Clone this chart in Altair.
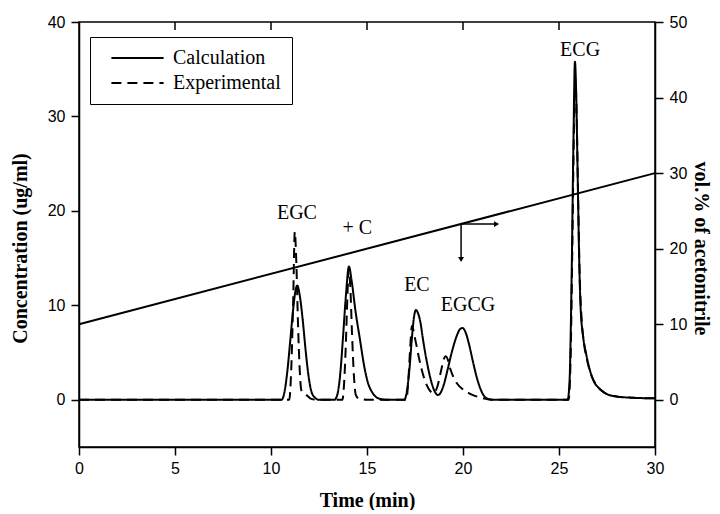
import altair as alt
import pandas as pd

# ---- data ----
calc_t = [0, 10.55, 10.7, 10.85, 11.0, 11.15, 11.3, 11.37, 11.5, 11.65, 11.8, 11.95, 12.1, 12.3, 12.5,
          13.3, 13.45, 13.6, 13.75, 13.9, 14.06, 14.2, 14.4, 14.64, 14.85, 15.05, 15.3, 15.6, 16.0,
          16.95, 17.05, 17.2, 17.35, 17.45, 17.55, 17.65, 17.8, 17.9, 18.1, 18.3, 18.5, 18.7, 18.85,
          19.0, 19.2, 19.45, 19.7, 19.85, 19.98, 20.1, 20.3, 20.5, 20.7, 20.9, 21.1, 21.3, 21.5,
          25.45, 25.55, 25.65, 25.75, 25.83, 25.9, 25.97, 26.05, 26.12, 26.25, 26.4, 26.6, 26.8,
          27.1, 27.5, 28.0, 29.0, 30.0]
calc_v = [0, 0, 0.8, 3.0, 6.2, 9.5, 11.8, 12.1, 11.0, 8.5, 5.3, 2.6, 0.9, 0.2, 0,
          0, 0.5, 2.6, 6.6, 11.0, 14.1, 12.6, 9.4, 6.3, 3.6, 1.8, 0.7, 0.15, 0,
          0, 0.6, 3.0, 6.8, 8.8, 9.5, 9.2, 8.0, 6.6, 4.2, 2.3, 1.0, 0.5, 0.8,
          1.6, 3.2, 5.3, 6.9, 7.5, 7.6, 7.3, 6.0, 4.2, 2.5, 1.2, 0.4, 0.1, 0,
          0, 2.0, 12.0, 27.0, 35.8, 32.0, 24.0, 15.0, 10.0, 6.8, 5.0, 3.2, 2.0,
          1.2, 0.6, 0.35, 0.2, 0.15]

exp_t = [0, 10.95, 11.05, 11.15, 11.24, 11.32, 11.4, 11.5, 11.58, 11.8, 12.1, 12.4,
         13.72, 13.8, 13.9, 13.98, 14.05, 14.13, 14.22, 14.32, 14.42, 14.6, 15.0,
         17.05, 17.15, 17.25, 17.34, 17.5, 17.7, 17.9, 18.1, 18.3, 18.45, 18.65, 18.85,
         19.0, 19.1, 19.2, 19.35, 19.5, 19.7, 20.0, 20.4, 20.8, 21.3, 21.6,
         25.5, 25.6, 25.7, 25.78, 25.85, 25.92, 26.0, 26.08, 26.18, 26.3, 26.45, 26.65,
         26.9, 27.2, 27.6, 28.2, 29.0, 30.0]
exp_v = [0, 0, 3.0, 10.0, 17.8, 14.5, 8.5, 3.0, 1.0, 0.6, 0.1, 0,
         0, 1.5, 6.0, 11.0, 13.8, 12.0, 7.0, 2.5, 0.5, 0.1, 0,
         0, 2.0, 5.5, 7.8, 6.5, 4.5, 2.8, 1.6, 0.9, 0.7, 1.3, 3.0,
         4.3, 4.6, 4.3, 3.2, 2.4, 1.7, 1.1, 0.6, 0.3, 0.05, 0,
         0, 4.0, 17.0, 29.0, 34.0, 30.0, 21.0, 13.0, 8.5, 6.0, 4.3, 2.8,
         1.7, 1.0, 0.5, 0.3, 0.2, 0.15]

series_names = ["Calculation", "Experimental"]

grad_t = [0, 30]
grad_pct = [10, 30]

top_tick_t = [5, 10, 15, 20, 25]

peak_labels = ["EGC", "+ C", "EC", "EGCG", "ECG"]
peak_label_t = [11.35, 14.5, 17.6, 20.26, 26.1]
peak_label_v = [19.8, 18.2, 12.15, 10.0, 37.0]

arrow_t = [19.9, 19.9]
arrow_v = [18.6, 18.6]
arrow_t2 = [19.9, 21.7]
arrow_v2 = [14.9, 18.6]
head_t = [19.9, 21.75]
head_v = [14.85, 18.6]
head_shape = ["triangle-down", "triangle-right"]

x_ticks = [0, 5, 10, 15, 20, 25, 30]
yl_ticks = [0, 10, 20, 30, 40]
yr_ticks = [0, 10, 20, 30, 40, 50]

# ---- tables ----
curves = pd.DataFrame({
    "t": calc_t + exp_t,
    "v": calc_v + exp_v,
    "series": [series_names[0]] * len(calc_t) + [series_names[1]] * len(exp_t),
})
grad = pd.DataFrame({"t": grad_t, "pct": grad_pct})
ticks = pd.DataFrame({"t": top_tick_t, "v": [40] * len(top_tick_t), "v2": [39.15] * len(top_tick_t)})
labels = pd.DataFrame({"t": peak_label_t, "v": peak_label_v, "text": peak_labels})
arrows = pd.DataFrame({"t": arrow_t, "v": arrow_v, "t2": arrow_t2, "v2": arrow_v2})
heads = pd.DataFrame({"t": head_t, "v": head_v, "shape": head_shape})

x_scale = alt.Scale(domain=[0, 30], nice=False, zero=False)
x_axis = alt.Axis(values=x_ticks, title="Time (min)", titleX=288, titleY=53,
                  titleAlign="center", titleBaseline="middle", labelFlush=False,
                  tickSize=8, labelPadding=5, grid=False)
yl_scale = alt.Scale(domain=[-5, 40], nice=False, zero=False)
yl_axis = alt.Axis(values=yl_ticks, title="Concentration (ug/ml)", titleX=-59, titleY=226,
                   titleAngle=270, titleAlign="center", titleBaseline="middle",
                   tickSize=8, labelPadding=6, grid=False)
yr_scale = alt.Scale(domain=[-6.25, 50], nice=False, zero=False)
yr_axis = alt.Axis(orient="right", values=yr_ticks, title="vol.% of acetonitrile",
                   titleX=45, titleY=226, titleAngle=90, titleAlign="center",
                   titleBaseline="middle", tickSize=8, labelPadding=6, grid=False)

X = alt.X("t:Q", scale=x_scale, axis=x_axis)
YL = alt.Y("v:Q", scale=yl_scale, axis=yl_axis)

lines = alt.Chart(curves).mark_line(color="black", strokeWidth=2, interpolate="monotone").encode(
    x=X, y=YL,
    strokeDash=alt.StrokeDash(
        "series:N",
        scale=alt.Scale(domain=series_names, range=[[1, 0], [10, 6]]),
        legend=alt.Legend(title=None, orient="none", legendX=11, legendY=15,
                          symbolType="M-2.9,0H2.9", symbolSize=324, symbolStrokeWidth=2,
                          symbolStrokeColor="black", symbolFillColor="transparent",
                          labelFont="Liberation Serif",
                          labelFontSize=20, labelColor="black", padding=11,
                          symbolOffset=26.5, labelOffset=25.5, rowPadding=5,
                          strokeColor="black"),
    ),
)

top_ticks = alt.Chart(ticks).mark_rule(color="black", strokeWidth=1.5).encode(
    x=X, y=YL, y2="v2:Q")

arrow_lines = alt.Chart(arrows).mark_rule(color="black", strokeWidth=1.5).encode(
    x=X, y=YL, x2="t2:Q", y2="v2:Q")

arrow_heads = alt.Chart(heads).mark_point(filled=True, color="black", size=35, opacity=1).encode(
    x=X, y=YL, shape=alt.Shape("shape:N", scale=None))

texts = alt.Chart(labels).mark_text(font="Liberation Serif", fontSize=20, color="black",
                                    align="center", baseline="middle").encode(
    x=X, y=YL, text="text:N")

left = alt.layer(lines, top_ticks, arrow_lines, arrow_heads, texts)

right = alt.Chart(grad).mark_line(color="black", strokeWidth=2).encode(
    x=X, y=alt.Y("pct:Q", scale=yr_scale, axis=yr_axis))

chart = alt.layer(left, right).resolve_scale(y="independent").properties(
    width=576, height=425,
    autosize=alt.AutoSizeParams(type="none"),
    padding={"left": 71, "top": 14, "right": 57, "bottom": 63},
).configure_axis(
    domainColor="black", domainWidth=1.5, tickColor="black", tickWidth=1.5,
    labelColor="black", labelFont="Liberation Sans", labelFontSize=16,
    titleFont="Liberation Serif", titleFontSize=20, titleFontWeight="bold",
    titleColor="black", grid=False,
).configure_view(stroke="black", strokeWidth=1.5)

chart.save("out.html", embed_options={"renderer": "svg", "actions": False})
